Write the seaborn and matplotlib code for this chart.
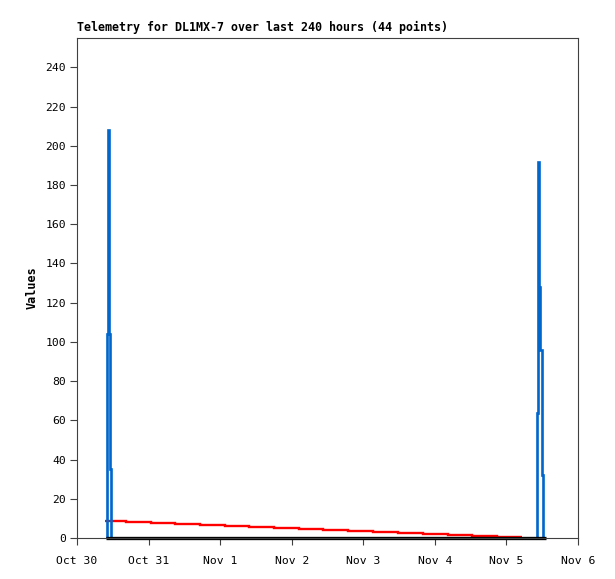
import matplotlib
matplotlib.use("Agg")
import matplotlib.pyplot as plt
import seaborn as sns
import pandas as pd

# ---- data (hours since Oct 30 00:00) ----
title_text = "Telemetry for DL1MX-7 over last 240 hours (44 points)"
x_tick_hours = [0, 24, 48, 72, 96, 120, 144, 168]
x_tick_labels = ["Oct 30", "Oct 31", "Nov 1", "Nov 2", "Nov 3", "Nov 4", "Nov 5", "Nov 6"]
y_ticks = [0, 20, 40, 60, 80, 100, 120, 140, 160, 180, 200, 220, 240]

blue_hours = [9.73, 10.06, 10.40, 10.63, 10.84, 11.17, 11.40,
              154.26, 154.60, 154.93, 155.27, 155.94, 156.27]
blue_values = [0, 104, 208, 173, 104, 35, 0,
               64, 192, 128, 96, 32, 0]

red_hours = [9.39, 16.43, 24.82, 32.86, 41.25, 49.63, 57.68, 66.06, 74.45,
             82.50, 90.88, 99.26, 107.65, 116.03, 124.42, 132.46, 140.85, 149.23]
red_values = [8.8, 8.3, 7.8, 7.3, 6.8, 6.3, 5.8, 5.2, 4.7,
              4.2, 3.7, 3.2, 2.7, 2.2, 1.7, 1.2, 0.66, 0.66]

black_hours = [9.73, 157.3]
black_values = [0, 0]

blue_df = pd.DataFrame({"hours": blue_hours, "value": blue_values})
red_df = pd.DataFrame({"hours": red_hours, "value": red_values})
black_df = pd.DataFrame({"hours": black_hours, "value": black_values})

sns.set_theme(style="white")
plt.rcParams["font.family"] = ["DejaVu Sans Mono", "DejaVu Sans"]
plt.rcParams["text.color"] = "black"
plt.rcParams["axes.labelcolor"] = "black"
plt.rcParams["lines.solid_capstyle"] = "butt"
plt.rcParams["lines.solid_joinstyle"] = "miter"

fig = plt.figure(figsize=(6.15, 5.79), dpi=100)
ax = fig.add_axes([77 / 615, 1 - 538 / 579, (578 - 77) / 615, (538 - 38) / 579])

line_kw = dict(drawstyle="steps-post", estimator=None, sort=False,
               solid_capstyle="butt", solid_joinstyle="miter")
sns.lineplot(data=red_df, x="hours", y="value", ax=ax, color="#ff0000",
             linewidth=1.7, **line_kw)
sns.lineplot(data=blue_df, x="hours", y="value", ax=ax, color="#0066cc",
             linewidth=1.9, **line_kw)
sns.lineplot(data=black_df, x="hours", y="value", ax=ax, color="#000000",
             linewidth=2.4, clip_on=False, **line_kw)

ax.set_xlim(0, 168)
ax.set_ylim(0, 255)
ax.set_xticks(x_tick_hours)
ax.set_xticklabels(x_tick_labels)
ax.set_yticks(y_ticks)
ax.set_xlabel("")
ax.set_ylabel("Values", fontsize=8.5, fontweight="bold", labelpad=5, color="black")

for s in ax.spines.values():
    s.set_color("#404040")
    s.set_linewidth(0.8)
    s.set_visible(True)

ax.tick_params(axis="both", direction="out", length=5, width=0.8,
               color="#404040", labelsize=8.2, labelcolor="#000000",
               left=True, bottom=True, pad=3)
ax.tick_params(axis="x", pad=8)
ax.grid(False)
ax.set_facecolor("white")

fig.text(77 / 615, 1 - 31 / 579, title_text, fontsize=8.4, fontweight="bold",
         ha="left", va="baseline", color="black")

fig.savefig("out.png", dpi=100, facecolor="white")
